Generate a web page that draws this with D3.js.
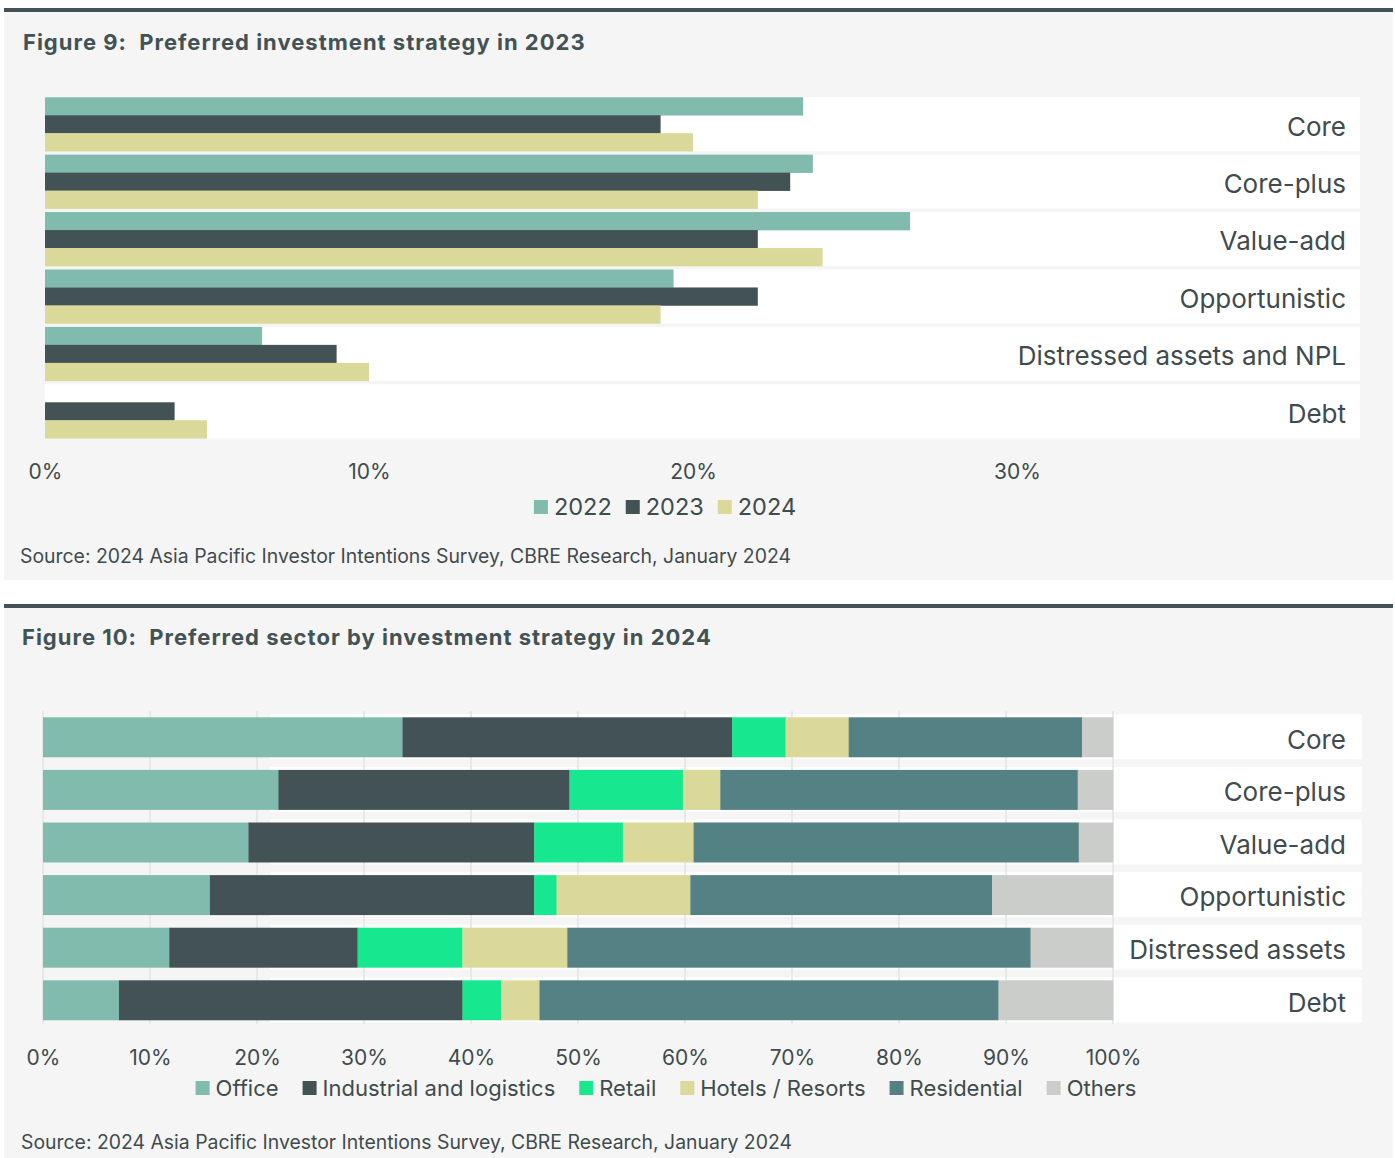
<!DOCTYPE html>
<html>
<head>
<meta charset="utf-8">
<script src="https://d3js.org/d3.v7.min.js"></script>
<style>
  body { margin: 0; background: #fff; }
  svg text { font-family: Inter, Roboto, "Noto Sans", sans-serif; fill: #3f4b4d; }
  .title { font-weight: 700; font-size: 22px; letter-spacing: 1px; white-space: pre; fill: #435254; }
</style>
</head>
<body>
<svg id="chart" width="1395" height="1158"></svg>
<script>
// Figure 9 data
const strategies = ["Core", "Core-plus", "Value-add", "Opportunistic", "Distressed assets and NPL", "Debt"];
const years = ["2022", "2023", "2024"];
const v2022 = [23.4, 23.7, 26.7, 19.4, 6.7, 0];
const v2023 = [19.0, 23.0, 22.0, 22.0, 9.0, 4.0];
const v2024 = [20.0, 22.0, 24.0, 19.0, 10.0, 5.0];
const topTicks = [0, 10, 20, 30];

// Figure 10 data
const sectorStrategies = ["Core", "Core-plus", "Value-add", "Opportunistic", "Distressed assets", "Debt"];
const sectors = ["Office", "Industrial and logistics", "Retail", "Hotels / Resorts", "Residential", "Others"];
const office = [33.6, 22.0, 19.2, 15.6, 11.8, 7.1];
const industrial = [30.8, 27.2, 26.7, 30.3, 17.6, 32.1];
const retail = [5.0, 10.6, 8.3, 2.1, 9.8, 3.6];
const hotels = [5.9, 3.5, 6.6, 12.5, 9.8, 3.6];
const residential = [21.8, 33.4, 36.0, 28.2, 43.3, 42.9];
const others = [2.9, 3.3, 3.2, 11.3, 7.7, 10.7];
const bottomTicks = [0, 10, 20, 30, 40, 50, 60, 70, 80, 90, 100];

const yearColors = ["#80bbad", "#435254", "#dbd99a"];
const sectorColors = ["#80bbad", "#435254", "#17e88f", "#dbd99a", "#538184", "#cbcdcb"];
const source = "Source: 2024 Asia Pacific Investor Intentions Survey, CBRE Research, January 2024";

const svg = d3.select("#chart");

// panels
function panel(y0, y1) {
  svg.append("rect").attr("x", 4).attr("y", y0).attr("width", 1389).attr("height", y1 - y0).attr("fill", "#f5f5f5");
  svg.append("rect").attr("x", 4).attr("y", y0 - 4).attr("width", 1389).attr("height", 4).attr("fill", "#435254");
}
panel(12, 580);
panel(608, 1158);

function legend(items, colors, cx, cy, gap, size) {
  const g = svg.append("g");
  let x = 0;
  items.forEach((name, i) => {
    g.append("rect").attr("x", x).attr("y", cy - 7).attr("width", 14).attr("height", 14).attr("fill", colors[i]);
    const t = g.append("text").attr("x", x + 20).attr("y", cy).attr("dy", "0.36em")
      .style("font-size", size + "px").text(name);
    x += 20 + t.node().getComputedTextLength() + gap;
  });
  g.attr("transform", `translate(${cx - (x - gap) / 2},0)`);
}

// ---------- Figure 9 ----------
svg.append("text").attr("class", "title").attr("x", 23).attr("y", 50)
  .text("Figure 9:  Preferred investment strategy in 2023");

const xTop = d3.scaleLinear().domain([0, 30]).range([45, 1017]);
const yTop = d3.scaleBand().domain(strategies).range([95.5, 440]).paddingInner(0.06).paddingOuter(0.03);
const ySub = d3.scaleBand().domain(years).range([0, yTop.bandwidth()]);
const topRows = strategies.map((s, i) => ({ s, vals: [v2022[i], v2023[i], v2024[i]] }));

svg.append("g").selectAll("rect").data(strategies).join("rect")
  .attr("x", 45).attr("width", 1315)
  .attr("y", d => yTop(d)).attr("height", yTop.bandwidth())
  .attr("fill", "#fff");

const grp = svg.append("g").selectAll("g").data(topRows).join("g")
  .attr("transform", d => `translate(0,${yTop(d.s)})`);
grp.selectAll("rect").data(d => d.vals.map((v, j) => ({ v, y: years[j], c: yearColors[j] }))).join("rect")
  .attr("x", xTop(0)).attr("width", d => xTop(d.v) - xTop(0))
  .attr("y", d => ySub(d.y)).attr("height", ySub.bandwidth() + 0.3)
  .attr("fill", d => d.c);

svg.append("g").selectAll("text").data(strategies).join("text")
  .attr("x", 1346).attr("y", d => yTop(d) + yTop.bandwidth() / 2 + 2).attr("dy", "0.36em")
  .attr("text-anchor", "end").style("font-size", "26px").text(d => d);

const axTop = svg.append("g").attr("transform", "translate(0,450)")
  .call(d3.axisBottom(xTop).tickValues(topTicks).tickFormat(d => d + "%").tickSize(0).tickPadding(14));
axTop.select(".domain").remove();
axTop.selectAll("text").style("font-size", "21px").attr("fill", "#3f4b4d");

legend(years, yearColors, 665, 507, 14, 23.5);

svg.append("text").attr("x", 20).attr("y", 556).attr("dy", "0.36em").style("font-size", "19.4px").text(source);

// ---------- Figure 10 ----------
svg.append("text").attr("class", "title").attr("x", 22).attr("y", 645)
  .text("Figure 10:  Preferred sector by investment strategy in 2024");

const xB = d3.scaleLinear().domain([0, 100]).range([43, 1113]);
const yB = d3.scaleBand().domain(sectorStrategies).range([711, 1026.6]).paddingInner(0.24).paddingOuter(0.12);

const rowsB = sectorStrategies.map((s, i) => ({
  s,
  "Office": office[i], "Industrial and logistics": industrial[i], "Retail": retail[i],
  "Hotels / Resorts": hotels[i], "Residential": residential[i], "Others": others[i]
}));
const stacked = d3.stack().keys(sectors)(rowsB);

// white label bands
svg.append("g").selectAll("rect").data(sectorStrategies).join("rect")
  .attr("x", 270).attr("width", 1092)
  .attr("y", d => yB(d) - 3).attr("height", yB.bandwidth() + 5)
  .attr("fill", "#fff");

// gridlines
svg.append("g").selectAll("line").data(bottomTicks).join("line")
  .attr("x1", d => xB(d)).attr("x2", d => xB(d))
  .attr("y1", 711).attr("y2", 1024)
  .attr("stroke", "#e2e4e4").attr("stroke-width", 1.5);

svg.append("g").selectAll("g").data(stacked).join("g")
  .attr("fill", (d, i) => sectorColors[i])
  .selectAll("rect").data(d => d).join("rect")
  .attr("x", d => xB(d[0])).attr("width", d => xB(d[1]) - xB(d[0]) + 0.3)
  .attr("y", d => yB(d.data.s)).attr("height", yB.bandwidth());

svg.append("g").selectAll("text").data(sectorStrategies).join("text")
  .attr("x", 1346).attr("y", d => yB(d) + yB.bandwidth() / 2 + 2).attr("dy", "0.36em")
  .attr("text-anchor", "end").style("font-size", "26px").text(d => d);

const axB = svg.append("g").attr("transform", "translate(0,1036)")
  .call(d3.axisBottom(xB).tickValues(bottomTicks).tickFormat(d => d + "%").tickSize(0).tickPadding(14));
axB.select(".domain").remove();
axB.selectAll("text").style("font-size", "21px").attr("fill", "#3f4b4d");

legend(sectors, sectorColors, 666, 1088, 24, 22);

svg.append("text").attr("x", 21).attr("y", 1142).attr("dy", "0.36em").style("font-size", "19.4px").text(source);
</script>
</body>
</html>
